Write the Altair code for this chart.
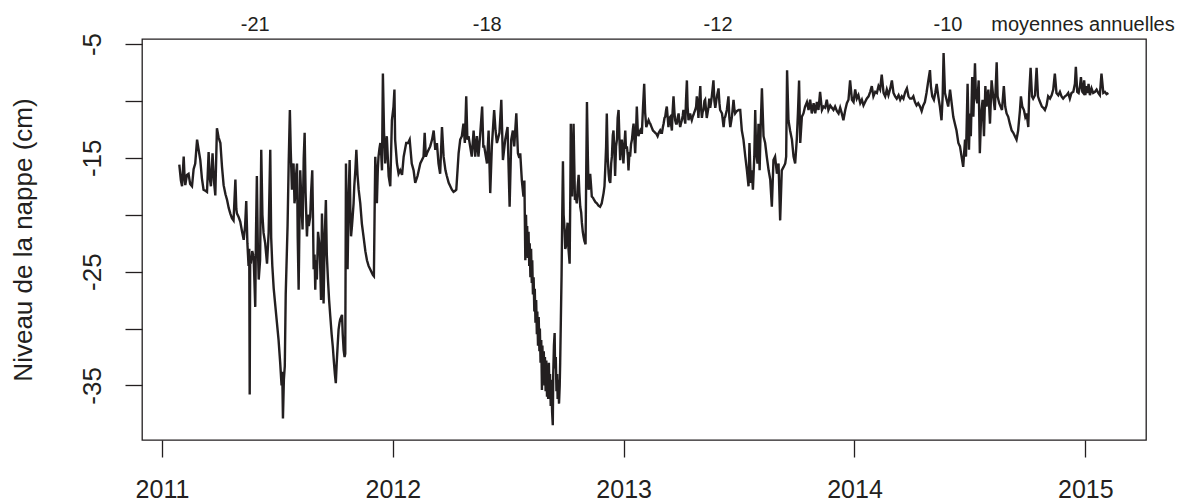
import altair as alt
import pandas as pd

# Niveau de la nappe (cm), série : (année décimale, niveau)
serie_2011 = [
    (2011.075, -15.6), (2011.082, -17.0), (2011.087, -17.5), (2011.094, -14.9), (2011.098, -16.8),
    (2011.101, -17.4), (2011.108, -16.5), (2011.115, -16.4), (2011.122, -17.3), (2011.130, -17.5),
    (2011.137, -16.0), (2011.144, -15.5), (2011.152, -13.4), (2011.158, -14.2), (2011.166, -15.2),
    (2011.173, -16.8), (2011.180, -17.8), (2011.188, -17.9), (2011.195, -18.0), (2011.202, -14.5),
    (2011.207, -16.8), (2011.212, -17.5), (2011.219, -14.6), (2011.225, -17.0), (2011.231, -18.3),
    (2011.238, -12.4), (2011.245, -13.2), (2011.253, -13.7), (2011.260, -15.8), (2011.267, -17.4),
    (2011.275, -18.2), (2011.282, -18.7), (2011.289, -19.4), (2011.296, -19.9), (2011.303, -20.3),
    (2011.310, -20.5), (2011.318, -16.9), (2011.322, -19.5), (2011.325, -19.9), (2011.332, -20.2),
    (2011.339, -20.6), (2011.347, -21.5), (2011.354, -22.2), (2011.360, -21.0), (2011.365, -18.8),
    (2011.370, -22.5), (2011.375, -24.5), (2011.378, -23.0), (2011.380, -35.8), (2011.382, -24.0),
    (2011.385, -24.3), (2011.391, -23.2), (2011.397, -23.7), (2011.404, -28.1), (2011.407, -22.0),
    (2011.411, -16.6), (2011.415, -22.5), (2011.419, -25.7), (2011.425, -24.0), (2011.430, -14.3),
    (2011.435, -20.0), (2011.440, -21.6), (2011.447, -22.5), (2011.455, -24.3), (2011.462, -21.6),
    (2011.469, -14.3), (2011.473, -22.0), (2011.478, -24.5), (2011.484, -26.5), (2011.491, -28.0),
    (2011.498, -29.5), (2011.505, -31.0), (2011.512, -33.0), (2011.518, -35.0), (2011.521, -33.8),
    (2011.524, -37.9), (2011.528, -34.5), (2011.532, -33.3), (2011.536, -27.0), (2011.540, -24.0),
    (2011.544, -21.0), (2011.549, -15.3), (2011.554, -10.8), (2011.558, -14.5), (2011.563, -17.8),
    (2011.567, -16.0), (2011.570, -15.5), (2011.574, -19.0), (2011.577, -18.4), (2011.581, -16.5),
    (2011.585, -15.5), (2011.588, -22.0), (2011.592, -26.6), (2011.596, -20.0), (2011.599, -16.1),
    (2011.604, -19.0), (2011.609, -21.3), (2011.614, -15.0), (2011.618, -12.8), (2011.622, -18.0),
    (2011.628, -21.9), (2011.632, -20.0), (2011.636, -21.0), (2011.642, -20.2), (2011.646, -18.0),
    (2011.651, -16.1), (2011.654, -20.0), (2011.657, -24.8), (2011.661, -23.5), (2011.664, -26.6),
    (2011.667, -24.0), (2011.671, -25.7), (2011.676, -21.5), (2011.683, -22.8), (2011.686, -25.0),
    (2011.689, -27.5), (2011.693, -19.9), (2011.697, -23.1), (2011.700, -27.8), (2011.705, -22.0),
    (2011.710, -18.7), (2011.714, -23.5), (2011.719, -25.7), (2011.724, -27.5), (2011.729, -28.9),
    (2011.735, -30.5), (2011.740, -31.6), (2011.745, -33.0), (2011.749, -34.0), (2011.753, -34.8),
    (2011.757, -33.0), (2011.761, -31.5), (2011.765, -30.1), (2011.769, -29.5), (2011.772, -29.2),
    (2011.776, -29.0), (2011.780, -28.8), (2011.783, -30.5), (2011.787, -31.9), (2011.791, -32.5),
    (2011.794, -32.2), (2011.797, -15.5), (2011.801, -22.0), (2011.804, -24.8), (2011.809, -18.0),
    (2011.813, -15.2), (2011.816, -19.5), (2011.819, -21.9), (2011.823, -21.0), (2011.826, -20.2),
    (2011.830, -19.0), (2011.833, -17.5), (2011.838, -16.0), (2011.842, -14.3), (2011.847, -16.5),
    (2011.852, -17.8), (2011.859, -19.0), (2011.866, -20.8), (2011.873, -21.9), (2011.881, -23.2),
    (2011.888, -24.0), (2011.895, -24.5), (2011.902, -24.8), (2011.909, -25.1), (2011.914, -25.3),
    (2011.918, -25.4), (2011.921, -20.0), (2011.924, -14.9), (2011.928, -17.0), (2011.931, -19.0),
    (2011.935, -16.0), (2011.938, -14.9), (2011.942, -14.2), (2011.946, -13.7), (2011.950, -14.8),
    (2011.953, -16.1), (2011.957, -7.6), (2011.962, -12.8), (2011.967, -15.5), (2011.974, -13.1),
    (2011.982, -16.6), (2011.989, -17.5), (2011.996, -11.7),
]

serie_2012 = [
    (2012.003, -10.5), (2012.007, -9.0), (2012.010, -13.4), (2012.018, -15.5), (2012.025, -16.4),
    (2012.032, -16.1), (2012.040, -16.5), (2012.047, -14.9), (2012.058, -13.7), (2012.066, -13.7),
    (2012.073, -13.4), (2012.082, -15.5), (2012.090, -16.1), (2012.097, -17.2), (2012.107, -16.6),
    (2012.119, -15.5), (2012.133, -14.9), (2012.138, -12.8), (2012.143, -14.9), (2012.148, -14.6),
    (2012.155, -14.3), (2012.162, -14.0), (2012.170, -13.4), (2012.177, -12.6), (2012.184, -14.3),
    (2012.191, -13.7), (2012.198, -15.5), (2012.205, -16.4), (2012.213, -12.3), (2012.220, -14.9),
    (2012.228, -16.1), (2012.234, -16.6), (2012.242, -17.2), (2012.249, -17.5), (2012.256, -17.8),
    (2012.263, -18.0), (2012.270, -17.9), (2012.275, -17.8), (2012.285, -14.6), (2012.292, -13.4),
    (2012.299, -13.1), (2012.306, -12.0), (2012.312, -13.7), (2012.318, -9.6), (2012.323, -13.4),
    (2012.328, -13.1), (2012.335, -14.0), (2012.342, -14.9), (2012.350, -12.6), (2012.357, -14.9),
    (2012.364, -13.1), (2012.371, -14.9), (2012.379, -12.8), (2012.387, -10.5), (2012.392, -14.0),
    (2012.396, -14.0), (2012.408, -15.5), (2012.415, -12.6), (2012.422, -18.1), (2012.429, -14.0),
    (2012.439, -10.8), (2012.445, -12.6), (2012.451, -13.7), (2012.462, -12.8), (2012.470, -9.9),
    (2012.477, -15.2), (2012.487, -13.4), (2012.497, -12.3), (2012.506, -19.3), (2012.513, -13.4),
    (2012.520, -12.6), (2012.526, -14.0), (2012.535, -11.1), (2012.542, -14.6), (2012.548, -15.0),
    (2012.552, -14.6), (2012.559, -17.0), (2012.566, -18.4), (2012.570, -17.0), (2012.574, -24.0),
    (2012.577, -20.0), (2012.580, -23.0), (2012.582, -21.0), (2012.585, -23.8), (2012.588, -21.5),
    (2012.591, -24.5), (2012.593, -22.5), (2012.596, -25.5), (2012.599, -23.0), (2012.602, -26.0),
    (2012.604, -24.0), (2012.607, -27.0), (2012.610, -25.5), (2012.613, -28.5), (2012.615, -26.5),
    (2012.618, -29.5), (2012.621, -27.5), (2012.624, -30.5), (2012.626, -28.5), (2012.629, -31.5),
    (2012.632, -29.0), (2012.635, -32.0), (2012.637, -30.0), (2012.640, -33.0), (2012.643, -31.0),
    (2012.646, -35.4), (2012.648, -31.5), (2012.651, -34.0), (2012.654, -32.0), (2012.657, -35.0),
    (2012.659, -32.5), (2012.662, -35.5), (2012.665, -32.8), (2012.668, -36.0), (2012.670, -33.5),
    (2012.673, -36.2), (2012.676, -33.0), (2012.679, -35.8), (2012.681, -34.0), (2012.684, -36.8),
    (2012.687, -34.5), (2012.690, -37.3), (2012.693, -38.5), (2012.695, -34.0), (2012.698, -31.5),
    (2012.701, -30.4), (2012.703, -33.5), (2012.706, -32.5), (2012.709, -35.5), (2012.712, -34.0),
    (2012.714, -36.2), (2012.717, -34.5), (2012.720, -36.6), (2012.723, -35.0), (2012.725, -33.0),
    (2012.728, -29.2), (2012.731, -25.4), (2012.734, -20.0), (2012.737, -15.3),
    (2012.740, -20.0), (2012.744, -21.3), (2012.747, -23.0), (2012.750, -22.8), (2012.754, -21.5),
    (2012.757, -20.7), (2012.761, -23.0), (2012.766, -24.3), (2012.769, -18.0), (2012.771, -12.0),
    (2012.774, -16.0), (2012.777, -18.4), (2012.780, -15.0), (2012.783, -12.0), (2012.786, -15.5),
    (2012.789, -18.7), (2012.793, -18.5), (2012.797, -19.0), (2012.801, -17.5), (2012.805, -16.5),
    (2012.808, -18.0), (2012.812, -19.3), (2012.816, -19.8), (2012.819, -20.7), (2012.823, -21.5),
    (2012.826, -21.9), (2012.830, -22.3), (2012.835, -22.6), (2012.838, -16.0), (2012.841, -10.1),
    (2012.845, -15.0), (2012.848, -17.8), (2012.852, -17.5), (2012.855, -16.4), (2012.859, -17.5),
    (2012.862, -18.4), (2012.867, -18.5), (2012.872, -18.7), (2012.878, -18.9), (2012.884, -19.0),
    (2012.891, -19.2), (2012.898, -19.3), (2012.905, -19.0), (2012.913, -18.1), (2012.917, -17.5),
    (2012.920, -16.1), (2012.924, -14.0), (2012.927, -11.1), (2012.931, -15.0), (2012.935, -16.4),
    (2012.938, -17.0), (2012.942, -17.2), (2012.946, -15.5), (2012.949, -14.9), (2012.953, -13.0),
    (2012.956, -12.6), (2012.960, -14.5), (2012.963, -16.6), (2012.967, -14.0), (2012.971, -13.4),
    (2012.974, -11.5), (2012.978, -10.8), (2012.982, -13.5), (2012.985, -15.2), (2012.988, -14.0),
    (2012.992, -13.4), (2012.996, -14.5), (2012.999, -15.5),
]

serie_2013 = [
    (2013.003, -14.0), (2013.007, -12.6), (2013.010, -14.2), (2013.014, -14.0), (2013.018, -14.8),
    (2013.021, -16.1), (2013.025, -14.5), (2013.028, -14.9), (2013.032, -13.8), (2013.036, -13.4),
    (2013.040, -12.5), (2013.043, -12.0), (2013.047, -13.5), (2013.050, -14.6), (2013.054, -12.5),
    (2013.057, -10.5), (2013.061, -12.5), (2013.064, -13.1), (2013.068, -12.8), (2013.072, -12.6),
    (2013.076, -12.8), (2013.079, -12.8), (2013.084, -10.5), (2013.089, -8.5), (2013.093, -11.0),
    (2013.098, -12.3), (2013.103, -12.0), (2013.108, -11.7), (2013.112, -11.9), (2013.115, -12.0),
    (2013.121, -12.3), (2013.127, -12.6), (2013.132, -12.7), (2013.137, -12.8), (2013.142, -12.9),
    (2013.147, -13.1), (2013.152, -12.8), (2013.158, -12.6), (2013.162, -12.8), (2013.166, -12.8),
    (2013.170, -12.3), (2013.173, -12.0), (2013.177, -11.5), (2013.180, -11.4), (2013.184, -10.8),
    (2013.187, -10.5), (2013.191, -11.5), (2013.194, -12.3), (2013.198, -11.5), (2013.202, -11.4),
    (2013.205, -12.0), (2013.209, -12.6), (2013.212, -11.0), (2013.216, -9.6), (2013.220, -11.0),
    (2013.223, -11.7), (2013.227, -12.0), (2013.230, -12.0), (2013.234, -11.5), (2013.238, -11.1),
    (2013.241, -11.8), (2013.245, -12.3), (2013.248, -12.0), (2013.252, -11.7), (2013.256, -11.3),
    (2013.259, -10.8), (2013.263, -11.5), (2013.267, -12.0), (2013.270, -10.0), (2013.274, -8.2),
    (2013.277, -10.5), (2013.281, -11.7), (2013.285, -11.3), (2013.288, -11.1), (2013.292, -11.5),
    (2013.295, -11.7), (2013.299, -11.4), (2013.303, -11.2), (2013.306, -11.0), (2013.310, -10.8),
    (2013.314, -10.5), (2013.317, -9.6), (2013.321, -10.5), (2013.324, -11.5), (2013.328, -10.0),
    (2013.332, -8.7), (2013.335, -10.5), (2013.339, -11.5), (2013.342, -11.0), (2013.346, -10.8),
    (2013.350, -10.0), (2013.353, -9.9), (2013.357, -10.8), (2013.360, -11.5), (2013.364, -11.0),
    (2013.368, -10.5), (2013.371, -9.8), (2013.375, -10.6), (2013.382, -9.6), (2013.389, -8.2),
    (2013.393, -10.0), (2013.397, -10.6), (2013.404, -9.6), (2013.411, -8.9), (2013.415, -10.2),
    (2013.418, -10.8), (2013.426, -11.1), (2013.433, -12.3), (2013.437, -11.5), (2013.440, -11.4),
    (2013.447, -10.8), (2013.454, -9.6), (2013.458, -11.5), (2013.462, -12.3), (2013.469, -11.4),
    (2013.476, -9.9), (2013.480, -10.8), (2013.483, -11.1), (2013.490, -10.9), (2013.498, -10.8),
    (2013.505, -10.8), (2013.512, -12.6), (2013.519, -13.4), (2013.527, -14.9), (2013.534, -16.1),
    (2013.541, -17.5), (2013.545, -13.7), (2013.551, -17.2), (2013.555, -16.1), (2013.560, -17.8),
    (2013.566, -14.9), (2013.570, -10.8), (2013.574, -14.5), (2013.580, -15.5), (2013.584, -12.0),
    (2013.589, -16.1), (2013.594, -12.0), (2013.599, -8.9), (2013.606, -13.1), (2013.613, -13.7),
    (2013.620, -14.9), (2013.628, -16.1), (2013.635, -16.9), (2013.642, -19.3), (2013.649, -15.2),
    (2013.656, -14.9), (2013.664, -16.4), (2013.671, -15.5), (2013.678, -20.5), (2013.685, -16.1),
    (2013.693, -15.8), (2013.700, -15.5), (2013.704, -14.9), (2013.708, -7.3), (2013.714, -11.7),
    (2013.721, -12.6), (2013.729, -13.4), (2013.736, -14.9), (2013.743, -15.5), (2013.750, -13.4),
    (2013.755, -11.1), (2013.760, -8.2), (2013.765, -13.7), (2013.772, -11.4), (2013.779, -11.1),
    (2013.786, -10.5), (2013.794, -10.1), (2013.801, -10.8), (2013.808, -9.9), (2013.815, -11.1),
    (2013.823, -10.2), (2013.830, -11.1), (2013.837, -10.1), (2013.844, -10.8), (2013.851, -9.2),
    (2013.859, -10.8), (2013.866, -10.5), (2013.873, -10.6), (2013.880, -9.9), (2013.887, -10.8),
    (2013.895, -10.4), (2013.902, -10.6), (2013.909, -10.8), (2013.916, -10.5), (2013.924, -10.9),
    (2013.931, -11.1), (2013.938, -10.6), (2013.945, -11.1), (2013.952, -11.7), (2013.960, -10.8),
    (2013.967, -10.2), (2013.974, -9.9), (2013.981, -8.2), (2013.989, -9.9), (2013.996, -10.1),
]

serie_2014 = [
    (2014.003, -9.0), (2014.010, -9.8), (2014.017, -9.5), (2014.025, -10.2), (2014.032, -9.9),
    (2014.039, -10.4), (2014.046, -10.1), (2014.053, -9.8), (2014.061, -9.6), (2014.068, -9.2),
    (2014.075, -8.7), (2014.082, -9.6), (2014.090, -9.2), (2014.097, -9.3), (2014.104, -8.7),
    (2014.111, -9.0), (2014.118, -7.7), (2014.126, -9.3), (2014.133, -9.6), (2014.140, -9.0),
    (2014.147, -9.5), (2014.155, -8.9), (2014.162, -8.2), (2014.169, -9.3), (2014.176, -9.6),
    (2014.183, -9.8), (2014.191, -9.5), (2014.198, -9.9), (2014.205, -9.6), (2014.212, -9.8),
    (2014.220, -9.2), (2014.227, -8.9), (2014.234, -9.6), (2014.241, -9.8), (2014.248, -9.8),
    (2014.255, -9.6), (2014.262, -10.1), (2014.269, -10.4), (2014.276, -10.2), (2014.284, -10.5),
    (2014.291, -10.9), (2014.298, -10.4), (2014.305, -10.1), (2014.312, -9.3), (2014.320, -8.2),
    (2014.327, -7.3), (2014.331, -8.7), (2014.337, -9.6), (2014.344, -9.9), (2014.350, -9.3),
    (2014.356, -8.5), (2014.363, -9.6), (2014.370, -10.5), (2014.377, -11.7), (2014.382, -9.6),
    (2014.386, -5.8), (2014.392, -9.3), (2014.399, -9.9), (2014.406, -10.5), (2014.414, -9.0),
    (2014.421, -10.2), (2014.428, -11.4), (2014.435, -12.0), (2014.442, -12.6), (2014.450, -13.7),
    (2014.457, -14.0), (2014.464, -14.9), (2014.471, -15.8), (2014.479, -13.4), (2014.483, -14.9),
    (2014.490, -8.5), (2014.496, -14.3), (2014.500, -11.1), (2014.504, -13.1), (2014.510, -7.9),
    (2014.515, -11.4), (2014.522, -6.7), (2014.526, -9.6), (2014.532, -10.2), (2014.538, -8.2),
    (2014.543, -14.6), (2014.549, -11.1), (2014.555, -9.9), (2014.561, -13.1), (2014.567, -8.7),
    (2014.572, -10.5), (2014.580, -9.0), (2014.587, -12.0), (2014.594, -8.2), (2014.601, -9.6),
    (2014.608, -10.8), (2014.616, -6.6), (2014.620, -9.6), (2014.627, -10.2), (2014.633, -10.5),
    (2014.639, -10.8), (2014.647, -8.7), (2014.653, -10.5), (2014.659, -11.1), (2014.666, -11.4),
    (2014.673, -12.0), (2014.681, -12.6), (2014.688, -12.8), (2014.695, -13.1), (2014.702, -13.4),
    (2014.709, -12.6), (2014.717, -10.8), (2014.721, -9.6), (2014.727, -10.5), (2014.734, -10.8),
    (2014.740, -11.4), (2014.746, -11.1), (2014.753, -12.3), (2014.757, -9.3), (2014.763, -7.1),
    (2014.769, -9.6), (2014.774, -9.8), (2014.782, -9.5), (2014.789, -7.1), (2014.795, -9.6),
    (2014.800, -9.9), (2014.806, -10.2), (2014.812, -10.5), (2014.818, -10.6), (2014.825, -10.8),
    (2014.832, -10.4), (2014.839, -9.6), (2014.847, -9.8), (2014.854, -9.5), (2014.861, -9.0),
    (2014.868, -7.6), (2014.875, -9.3), (2014.883, -9.5), (2014.890, -9.2), (2014.897, -9.6),
    (2014.904, -9.8), (2014.912, -9.6), (2014.919, -9.5), (2014.926, -9.3), (2014.933, -9.8),
    (2014.940, -9.3), (2014.948, -9.2), (2014.955, -8.5), (2014.959, -7.0), (2014.965, -9.2),
    (2014.971, -9.3), (2014.977, -8.7), (2014.981, -7.9), (2014.987, -9.2), (2014.991, -9.3),
    (2014.995, -8.2),
]

serie_2015 = [
    (2015.000, -9.5), (2015.005, -8.7), (2015.010, -9.3), (2015.014, -8.5), (2015.020, -9.5),
    (2015.027, -8.9), (2015.034, -9.3), (2015.042, -9.2), (2015.049, -9.0), (2015.056, -9.3),
    (2015.063, -9.5), (2015.070, -7.6), (2015.078, -9.3), (2015.085, -9.2), (2015.092, -9.4),
    (2015.100, -9.3),
]

# Moyennes annuelles affichées en haut du graphique
moyennes_annee = [2011.404, 2012.409, 2013.409, 2014.405, 2014.990]
moyennes_texte = ["-21", "-18", "-12", "-10", "moyennes annuelles"]

annees_ticks = [2011, 2012, 2013, 2014, 2015]
niveaux_ticks = [-35, -30, -25, -20, -15, -10, -5]

rows = serie_2011 + serie_2012 + serie_2013 + serie_2014 + serie_2015
df = pd.DataFrame(rows, columns=["annee", "niveau"])
df_moy = pd.DataFrame({"annee": moyennes_annee, "texte": moyennes_texte})

FONT = "Liberation Sans"
INK = "#231f20"

x_scale = alt.Scale(domain=[2010.9134, 2015.2629], nice=False, zero=False)
y_scale = alt.Scale(domain=[-39.794, -4.561], nice=False, zero=False)

line = alt.Chart(df).mark_line(color=INK, strokeWidth=2.4).encode(
    x=alt.X(
        "annee:Q",
        scale=x_scale,
        axis=alt.Axis(
            values=annees_ticks,
            format="d",
            title=None,
            grid=False,
            domain=False,
            ticks=True,
            tickSize=17,
            tickWidth=1.3,
            tickColor=INK,
            labelFont=FONT,
            labelFontSize=25,
            labelColor=INK,
            labelBaseline="alphabetic",
            labelPadding=40.5,
            labelFlush=False,
            labelOverlap=False,
        ),
    ),
    y=alt.Y(
        "niveau:Q",
        scale=y_scale,
        axis=alt.Axis(
            values=niveaux_ticks,
            labelExpr="(datum.value + 5) % 10 == 0 ? '' + datum.value : ''",
            title="Niveau de la nappe (cm)",
            titleFont=FONT,
            titleFontSize=26,
            titleFontWeight="normal",
            titleColor=INK,
            titleAngle=270,
            titleAlign="center",
            titleBaseline="middle",
            titleX=-119,
            titleY=200.5,
            grid=False,
            domain=False,
            tickSize=17,
            tickWidth=1.3,
            tickColor=INK,
            labelFont=FONT,
            labelFontSize=26,
            labelColor=INK,
            labelAngle=270,
            labelAlign="center",
            labelBaseline="alphabetic",
            labelPadding=25,
            labelFlush=False,
            labelOverlap=False,
        ),
    ),
)

moy = alt.Chart(df_moy).mark_text(
    font=FONT, fontSize=20, color=INK, align="center", baseline="middle"
).encode(
    x=alt.X("annee:Q", scale=x_scale),
    y=alt.value(-14),
    text="texte:N",
)

chart = (
    alt.layer(line, moy)
    .properties(
        width=1004,
        height=401,
        autosize=alt.AutoSizeParams(type="none"),
        padding={"left": 134, "top": 31, "right": 30, "bottom": 64},
        background="white",
    )
    .configure_view(stroke=INK, strokeWidth=1.3)
)

chart.save("out.html", embed_options={"renderer": "svg", "actions": False})
